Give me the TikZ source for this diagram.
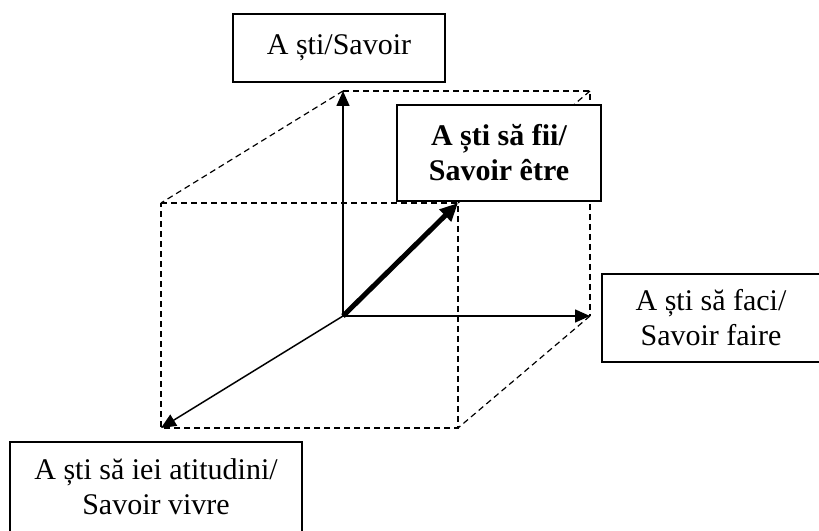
\documentclass[tikz,border=0pt]{standalone}
\usepackage{fontspec}
\setmainfont{Liberation Serif}
\usetikzlibrary{arrows.meta}

\begin{document}
\begin{tikzpicture}[x=0.5pt, y=0.5pt,
        labelbox/.style={draw, rectangle, fill=white, line width=0.7pt, align=center, inner sep=0pt, font=\fontsize{15}{17.5}\selectfont},
        edge/.style={line width=0.6pt, dash pattern=on 3pt off 2pt},
        axis/.style={line width=0.75pt, -{Triangle[length=7.5pt, width=6.5pt]}},
        boldaxis/.style={line width=2.5pt, -{Triangle[length=9pt, width=8pt]}}
    ]
        \useasboundingbox (0,0) rectangle (819,530);

        % Cube corners
        \coordinate (origin) at (343,214);
        \coordinate (backtop) at (343,439);
        \coordinate (backtopright) at (590,439);
        \coordinate (backright) at (590,214);
        \coordinate (fronttopleft) at (161,327);
        \coordinate (fronttopright) at (458,327);
        \coordinate (frontbottomright) at (458,102);
        \coordinate (frontbottomleft) at (161,102);

        % Dashed edges
        \draw[edge] (backtop) -- (backtopright) -- (backright);
        \draw[edge] (fronttopleft) -- (fronttopright) -- (frontbottomright) -- (frontbottomleft) -- cycle;
        \draw[edge] (backtop) -- (fronttopleft);
        \draw[edge] (backtopright) -- (fronttopright);
        \draw[edge] (backright) -- (frontbottomright);

        % Axes
        \draw[axis] (origin) -- (backtop);
        \draw[axis] (origin) -- (backright);
        \draw[axis] (origin) -- (frontbottomleft);
        \draw[boldaxis] (origin) -- (fronttopright);

        % Labels
        \node[labelbox, minimum width=106pt, minimum height=34pt] (savoir) at (339,482) {A ști/Savoir};
        \node[labelbox, minimum width=102pt, minimum height=48pt, font=\fontsize{15}{17.5}\selectfont\bfseries] (etre) at (499,377) {A ști să fii/\\Savoir être};
        \node[labelbox, minimum width=109pt, minimum height=44pt] (faire) at (711,212) {A ști să faci/\\Savoir faire};
        \node[labelbox, minimum width=146pt, minimum height=45pt] (vivre) at (156,43) {A ști să iei atitudini/\\Savoir vivre};
    \end{tikzpicture}
\end{document}
